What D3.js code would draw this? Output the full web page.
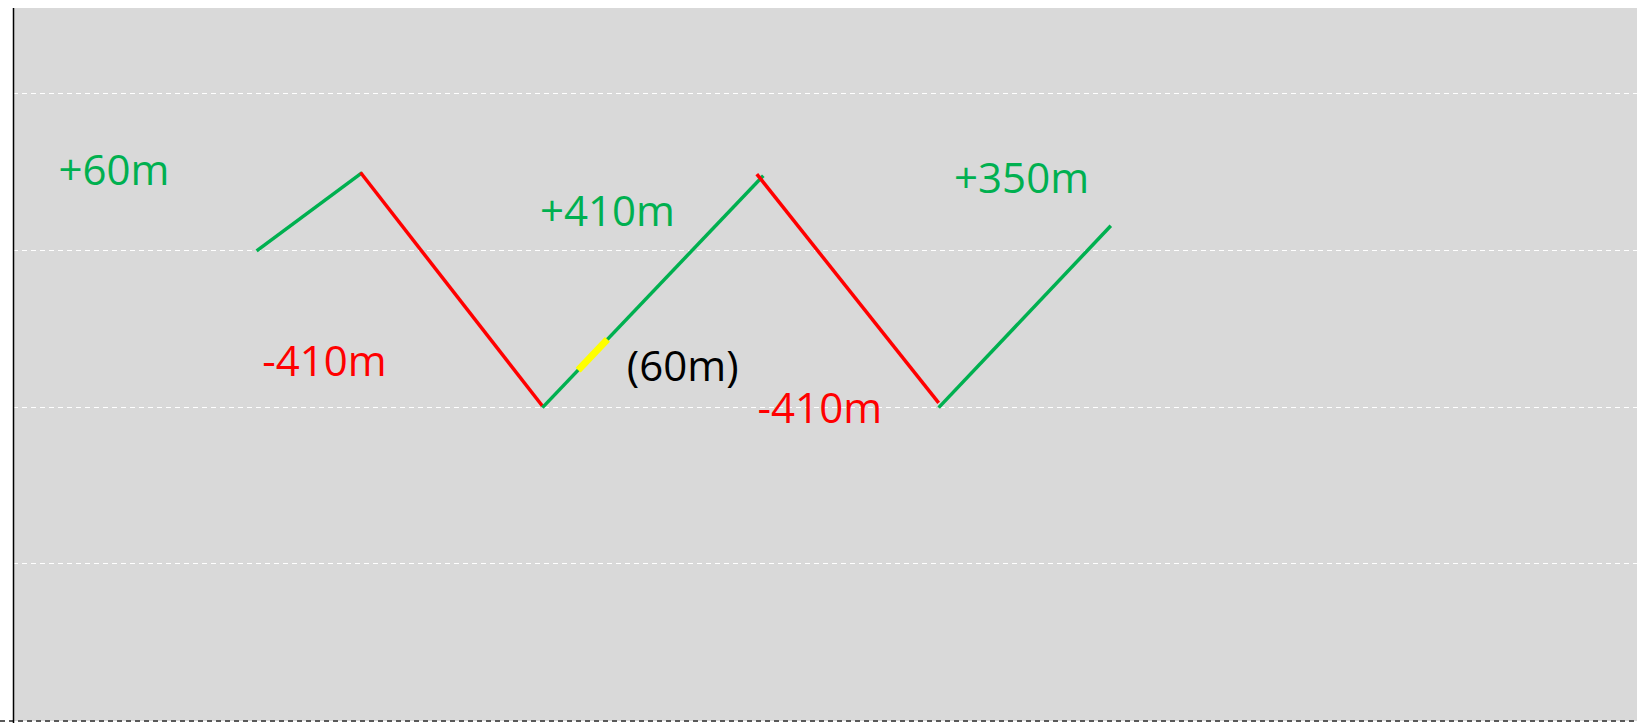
<!DOCTYPE html>
<html>
<head>
<meta charset="utf-8">
<script src="https://cdn.jsdelivr.net/npm/d3@7"></script>
<style>
  html, body { margin: 0; padding: 0; background: #fff; overflow: hidden; }
  svg { display: block; }
</style>
</head>
<body>
<div id="chart"></div>
<script>
// + -- data: a schematic profile, x in km along route, y in metres ---------- +
const legKind = ['up', 'down', 'up', 'down', 'up']
const legStartKm = [15.0, 21.4, 32.6, 45.8, 57.0]
const legEndKm = [21.5, 32.6, 46.2, 57.0, 67.6]
const legStartElev = [300, 350, 200, 349, 200]
const legEndElev = [350, 201, 348, 203, 316]

const labelText = ['+60m', '-410m', '+410m', '-410m', '+350m', '(60m)']
const labelKind = ['up', 'down', 'up', 'down', 'up', 'note']
const labelKm = [2.8, 15.35, 32.45, 45.85, 57.95, 37.8]
const labelElev = [342, 220, 316, 190, 337, 217]

// the short highlighted stretch on the second climb
const highlightKm = [34.8, 36.6]
const highlightLeg = 2

const yTicks = [100, 200, 300, 400]

const W = 1637, H = 723
const margin = {top: 8, right: 0, bottom: 2, left: 13}

const colors = {up: '#00b050', down: '#ff0000', note: '#000000', highlight: '#ffff00'}

const svg = d3.select('#chart').append('svg')
  .attr('width', W)
  .attr('height', H)

const x = d3.scaleLinear().domain([0, 100]).range([margin.left, W - margin.right])
const y = d3.scaleLinear().domain([0, 455]).range([H - margin.bottom, margin.top])

// plot background
svg.append('rect')
  .attr('x', x(0))
  .attr('y', y(455))
  .attr('width', x(100) - x(0))
  .attr('height', y(0) - y(455))
  .attr('fill', '#d9d9d9')

// gridlines
svg.append('g')
  .selectAll('line')
  .data(yTicks)
  .join('line')
  .attr('x1', x(0))
  .attr('x2', x(100))
  .attr('y1', d => Math.round(y(d)) - 0.5)
  .attr('y2', d => Math.round(y(d)) - 0.5)
  .attr('stroke', '#ffffff')
  .attr('stroke-width', 1)
  .attr('stroke-dasharray', '5,4')

// bottom axis (dashed) and left axis
svg.append('line')
  .attr('x1', 0)
  .attr('x2', W)
  .attr('y1', y(0))
  .attr('y2', y(0))
  .attr('stroke', '#595959')
  .attr('stroke-width', 2)
  .attr('stroke-dasharray', '5,4')

svg.append('line')
  .attr('x1', x(0) + 0.5)
  .attr('x2', x(0) + 0.5)
  .attr('y1', y(455))
  .attr('y2', H)
  .attr('stroke', '#000')
  .attr('stroke-width', 1.5)

// legs
const legs = legKind.map((k, i) => ({
  kind: k, x0: legStartKm[i], x1: legEndKm[i], y0: legStartElev[i], y1: legEndElev[i]
}))

svg.append('g')
  .selectAll('line')
  .data(legs)
  .join('line')
  .attr('x1', d => x(d.x0))
  .attr('y1', d => y(d.y0))
  .attr('x2', d => x(d.x1))
  .attr('y2', d => y(d.y1))
  .attr('stroke', d => colors[d.kind])
  .attr('stroke-width', 3.5)

// highlight, placed on the leg by interpolation along its own line
const hl = legs[highlightLeg]
const elevAt = km => hl.y0 + (hl.y1 - hl.y0) * (km - hl.x0) / (hl.x1 - hl.x0)
svg.append('line')
  .attr('x1', x(highlightKm[0]))
  .attr('y1', y(elevAt(highlightKm[0])))
  .attr('x2', x(highlightKm[1]))
  .attr('y2', y(elevAt(highlightKm[1])))
  .attr('stroke', colors.highlight)
  .attr('stroke-width', 7)

// labels
svg.append('g')
  .selectAll('text')
  .data(labelText)
  .join('text')
  .attr('x', (d, i) => x(labelKm[i]))
  .attr('y', (d, i) => y(labelElev[i]))
  .attr('fill', (d, i) => colors[labelKind[i]])
  .attr('font-family', "'Open Sans', 'Noto Sans', sans-serif")
  .style('font-size', '42px')
  .text(d => d)
</script>
</body>
</html>
